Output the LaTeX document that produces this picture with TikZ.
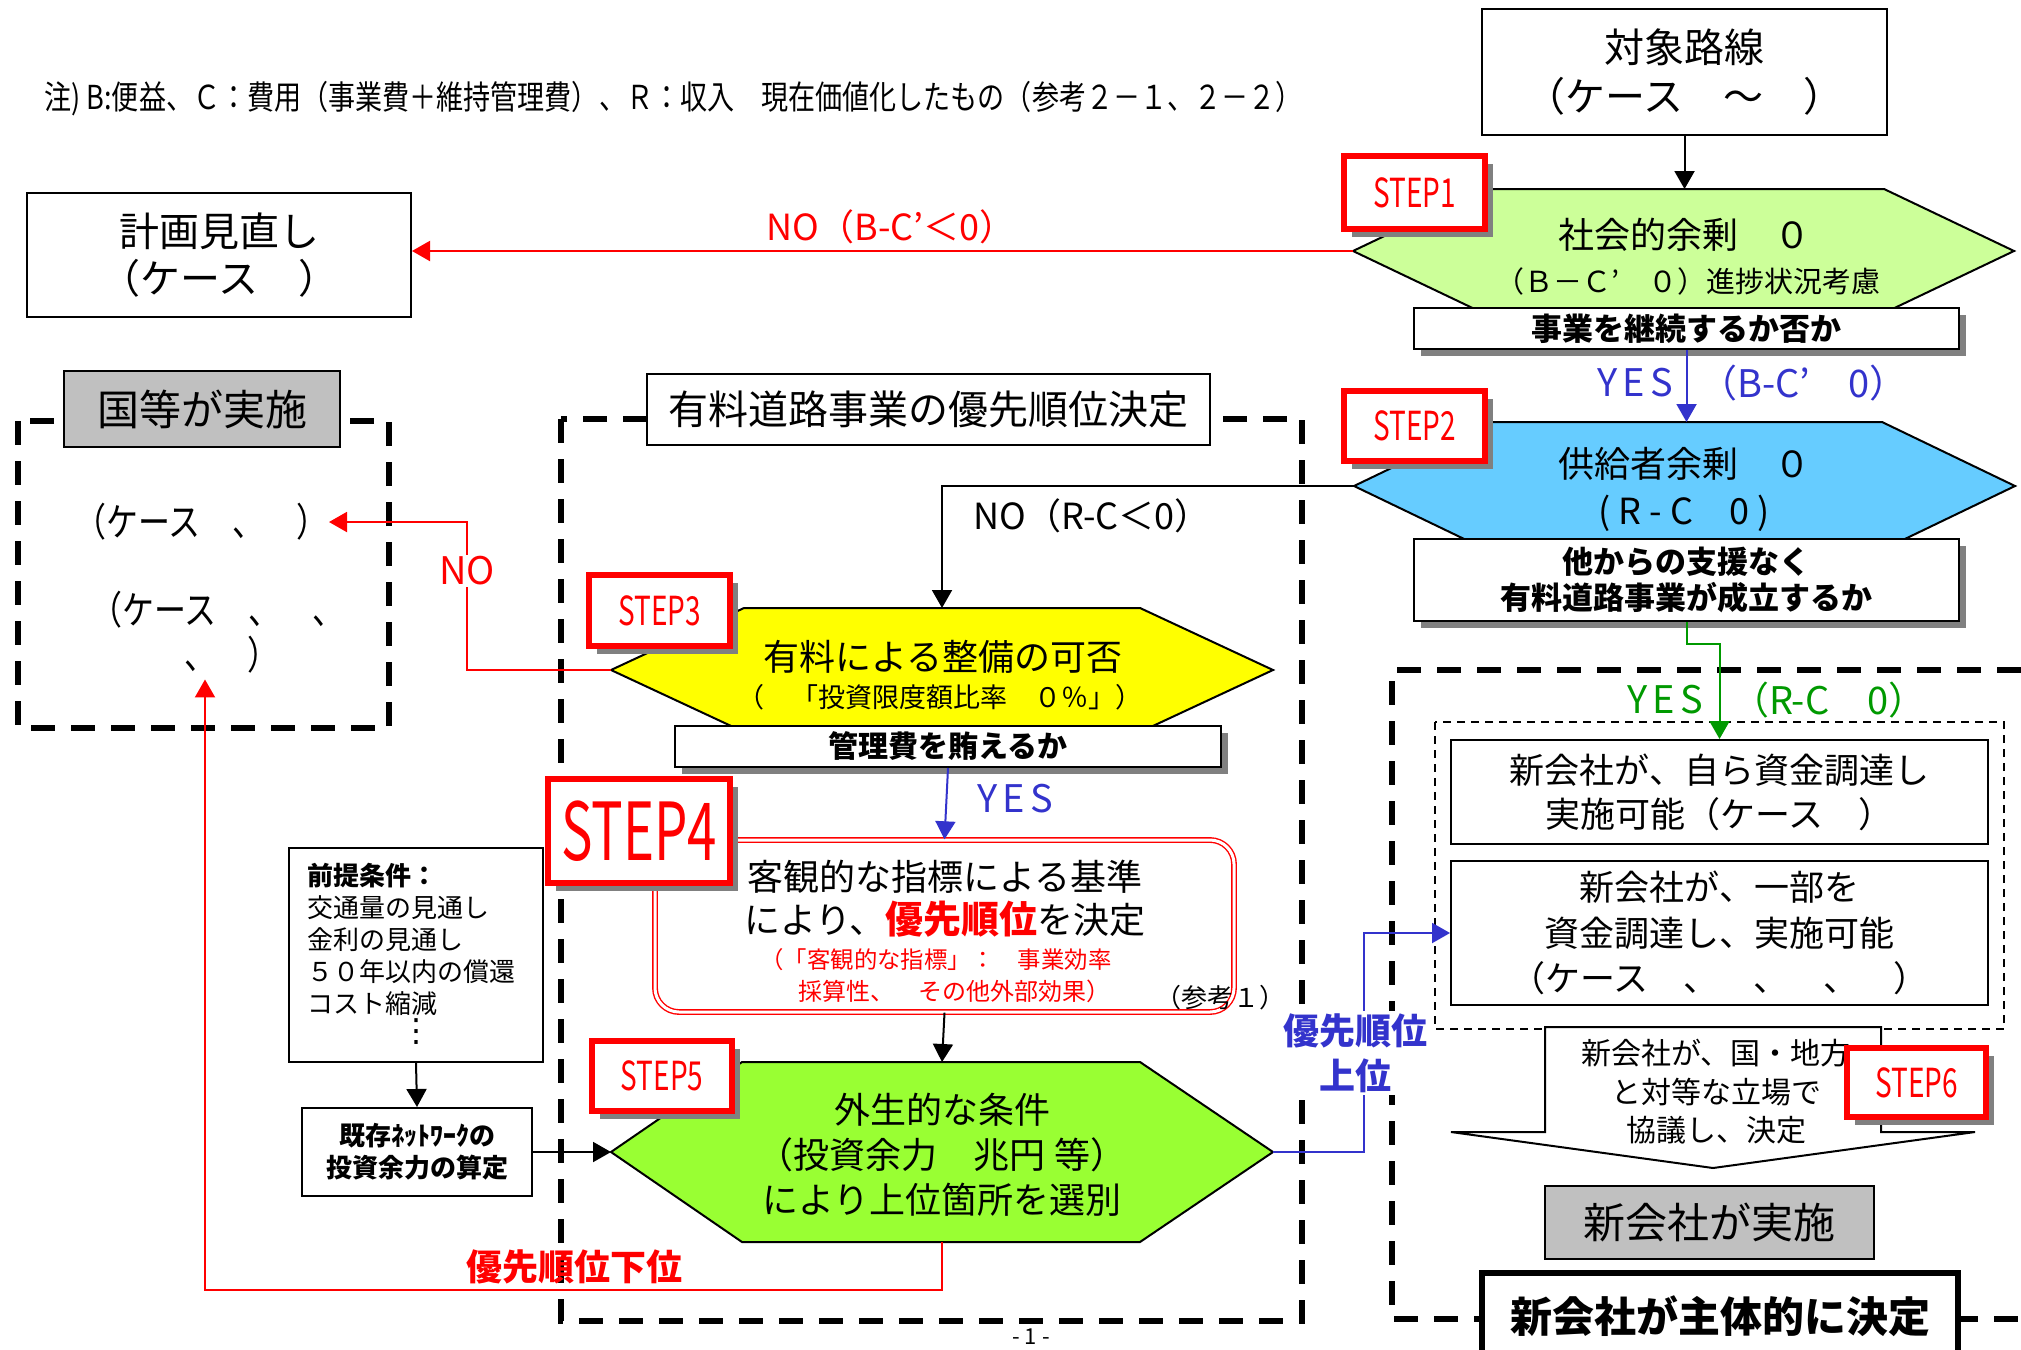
\documentclass[tikz,border=0pt]{standalone}
\usepackage{fontspec}
\setmainfont{Noto Sans CJK JP}
\newfontfamily\stepfont[FakeStretch=0.7]{Noto Sans CJK JP}
\newfontfamily\stepfontb[FakeStretch=0.66]{Noto Sans CJK JP}
\newfontfamily\condf[FakeStretch=0.82]{Noto Sans CJK JP}
\newfontfamily\spacedf[LetterSpace=14]{Noto Sans CJK JP}
\newfontfamily\dejavu{DejaVu Sans}
\usetikzlibrary{arrows.meta,shadows}
\definecolor{jred}{HTML}{FF0000}
\definecolor{jblue}{HTML}{3333CC}
\definecolor{jgreen}{HTML}{009900}
\definecolor{lgreen}{HTML}{CCFF99}
\definecolor{lblue}{HTML}{66CCFF}
\definecolor{yel}{HTML}{FFFF00}
\definecolor{fgreen}{HTML}{99FF33}
\definecolor{gfill}{HTML}{C0C0C0}
\newcommand\jfs[2]{\fontsize{#1}{#2}\selectfont}
\begin{document}
\begin{tikzpicture}[x=0.5pt,y=-0.5pt,
  box/.style={draw=black,line width=1pt,fill=white,inner sep=0pt,align=center},
  qbox/.style={box,drop shadow={shadow xshift=3.5pt,shadow yshift=-3.5pt,fill=black!50,opacity=1}},
  steplabel/.style={draw=jred,line width=3pt,fill=white,inner sep=0pt,text=jred,
     drop shadow={shadow xshift=4pt,shadow yshift=-4pt,fill=black!50,opacity=1}},
  bigdash/.style={line width=2.8pt,dash pattern=on 12pt off 8pt},
  conn/.style={draw=black,line width=1pt,-{Triangle[length=9pt,width=10pt]}},
  rconn/.style={draw=jred,line width=1pt,-{Triangle[length=9pt,width=10pt]}},
  bconn/.style={draw=jblue,line width=1pt,-{Triangle[length=9pt,width=10pt]}},
  gconn/.style={draw=jgreen,line width=1pt,-{Triangle[length=9pt,width=10pt]}},
  hexa/.style={draw=black,line width=1pt},
  yeslab/.style={font=\spacedf\jfs{19}{22}},
  condlab/.style={font=\jfs{18}{22}}
]
\useasboundingbox (0,0) rectangle (2021,1349);
\fill[white] (0,0) rectangle (2021,1349);

% note
\node[anchor=west,inner sep=0pt,font=\condf\jfs{16.5}{19}] (note) at (44,99) {注) B:便益、Ｃ：費用（事業費＋維持管理費）、Ｒ：収入　現在価値化したもの（参考２－１、２－２）};

% dashed frames
\draw[bigdash] (18,421) rectangle (389,728);
\draw[bigdash] (561,419) rectangle (1302,1321);
\draw[bigdash] (2021,670) -- (1392,670) -- (1392,1319) -- (2021,1319);
\draw[line width=1pt,dash pattern=on 4pt off 3pt] (1435,722) rectangle (2004,1029);

% target route
\node[box,minimum width=202.5pt,minimum height=63pt,font=\jfs{20}{24.5}] (taisho) at (1684.5,72) {対象路線\\（ケース　～　）};

% hexagon 1
\filldraw[hexa,fill=lgreen] (1353,251) coordinate (h1w) -- (1483,189) -- (1884,189) -- (2014,251) -- (1884,313) -- (1483,313) -- cycle;
\coordinate (h1n) at (1684.5,189);
\node[font=\jfs{18}{22}] (h1a) at (1684,235) {社会的余剰　０};
\node[font=\jfs{14.5}{17}] (h1b) at (1688,281) {（Ｂ－Ｃ’　０）進捗状況考慮};
\draw[conn] (taisho.south) -- (h1n);

\node[qbox,minimum width=272.5pt,minimum height=20.5pt,font=\bfseries\jfs{15.5}{18}] (q1) at (1686.5,328.5) {事業を継続するか否か};
\node[steplabel,minimum width=70.5pt,minimum height=36.5pt,font=\stepfont\jfs{20}{24}] (s1) at (1414.5,192.5) {STEP1};

% plan review
\node[box,minimum width=192pt,minimum height=62pt,font=\jfs{20}{23.5}] (keikaku) at (219,255) {計画見直し\\（ケース　）};
\draw[rconn] (h1w) -- (keikaku.east |- h1w);
\node[text=jred,condlab] (no1) at (891,227) {NO（B-C’＜0）};

% hexagon 2
\filldraw[hexa,fill=lblue] (1354,486) coordinate (h2w) -- (1487,422) -- (1882,422) -- (2015,486) -- (1882,550) -- (1487,550) -- cycle;
\coordinate (h2n) at (1686.5,422);
\node[font=\jfs{18}{23.5},align=center] (h2t) at (1684,489.5) {供給者余剰　０\\( R - C　0 )};
\draw[bconn] (q1.south) -- (h2n);
\node[anchor=east,text=jblue,yeslab] (yes1) at (1680,383) {YES};
\node[anchor=west,text=jblue,font=\jfs{19}{22}] (yes1b) at (1692,383) {（B-C’　0）};

\node[qbox,minimum width=272.5pt,minimum height=41pt,font=\bfseries\jfs{15.5}{18}] (q2) at (1686.5,580) {他からの支援なく\\有料道路事業が成立するか};
\node[steplabel,minimum width=70.5pt,minimum height=35pt,font=\stepfont\jfs{20}{24}] (s2) at (1414.5,426) {STEP2};

% title boxes
\node[box,minimum width=281.5pt,minimum height=35.5pt,font=\jfs{20}{24}] (title) at (928.5,409.5) {有料道路事業の優先順位決定};
\node[box,fill=gfill,minimum width=138pt,minimum height=38pt,font=\jfs{21}{25}] (kuni) at (202,409) {国等が実施};

% case texts
\node[anchor=east,inner sep=0pt,font=\condf\jfs{19.5}{22}] (case1) at (329,522) {（ケース　、　）};
\node[anchor=west,align=left,font=\condf\jfs{19.5}{22.5},inner sep=3pt] (case2) at (84,632) {（ケース　、　、\\\hspace*{2.4em}、　）};

% hexagon 3
\filldraw[hexa,fill=yel] (611,670) coordinate (h3w) -- (744,608) -- (1140,608) -- (1273,670) -- (1140,732) -- (744,732) -- cycle;
\coordinate (h3n) at (942,608);
\node[font=\jfs{18}{22}] (h3a) at (943,657) {有料による整備の可否};
\node[font=\jfs{13.5}{16}] (h3b) at (940,697) {（　「投資限度額比率　０％」）};
\draw[conn] (h2w) -| (h3n);
\node[condlab] (no2) at (1092,516) {NO（R-C＜0）};

\node[qbox,minimum width=273pt,minimum height=20.5pt,font=\bfseries\jfs{15}{18}] (q3) at (948,746.5) {管理費を賄えるか};
\node[steplabel,minimum width=70.5pt,minimum height=35.5pt,font=\stepfont\jfs{20}{24}] (s3) at (659.5,610.5) {STEP3};

% NO red to state
\coordinate (nob) at (467,670);
\draw[rconn] (h3w) -- (nob) |- (case1.east);
\node[fill=white,text=jred,font=\jfs{19}{22},inner sep=1pt] (no3) at (467,571) {NO};

% STEP4 box
\node[draw=jred,double=white,double distance=1.5pt,line width=0.7pt,rounded corners=12pt,minimum width=289.5pt,minimum height=86pt] (s4) at (944.5,926) {};
\node[font=\jfs{18}{22}] (s4a) at (945,877) {客観的な指標による基準};
\node[font=\jfs{18}{22}] (s4b) at (945,919) {により、{\bfseries\color{jred}\jfs{19}{22}優先順位}を決定};
\node[text=jred,font=\jfs{11.7}{14}] (s4c) at (936,960) {（「客観的な指標」：　事業効率};
\node[text=jred,font=\jfs{12}{14}] (s4d) at (954,991) {採算性、　その他外部効果）};
\node[font=\jfs{13}{16}] (ref1) at (1220,998) {（参考１）};
\draw[bconn] (q3.south) -- (s4.north);
\node[text=jblue,yeslab] (yes2) at (1015,799) {YES};
\node[steplabel,minimum width=91pt,minimum height=52pt,font=\stepfontb\jfs{40}{44}] (s4l) at (639,831) {STEP4};

% hexagon 5
\filldraw[hexa,fill=fgreen] (611,1152) coordinate (h5w) -- (742,1062) -- (1140,1062) -- (1273,1152) coordinate (h5e) -- (1140,1242) -- (742,1242) -- cycle;
\coordinate (h5n) at (942,1062);
\coordinate (h5s) at (942,1242);
\node[font=\jfs{18}{22.5},align=center] (h5t) at (942,1155) {外生的な条件\\（投資余力　兆円 等）\\により上位箇所を選別};
\draw[conn] (s4.south) -- (h5n);
\node[steplabel,minimum width=70pt,minimum height=35pt,font=\stepfont\jfs{20}{24}] (s5) at (662,1076) {STEP5};

% premises
\node[box,minimum width=127pt,minimum height=107pt] (zentei) at (416,955) {};
\node[anchor=north west,align=left,font=\jfs{13}{16},inner sep=0pt] (zenteiT) at (307,863) {{\bfseries 前提条件：}\\交通量の見通し\\金利の見通し\\５０年以内の償還\\コスト縮減};
\node[font=\dejavu\jfs{16}{18}] (dots) at (416,1032) {⋮};
\node[box,minimum width=115pt,minimum height=44pt,font=\bfseries\jfs{13}{16}] (kison) at (417,1152) {既存ﾈｯﾄﾜｰｸの\\投資余力の算定};
\draw[conn] (zentei.south) -- (kison.north);
\draw[conn] (kison.east) -- (h5w);

% lower priority
\coordinate (lowL) at (205,1290);
\draw[rconn] (h5s) |- (lowL) -- (lowL |- case2.south);
\node[text=jred,font=\bfseries\jfs{18}{22}] (kai) at (574,1267) {優先順位下位};

% new company boxes
\node[box,minimum width=268.5pt,minimum height=52pt,font=\jfs{17.5}{22}] (n1) at (1719.5,792) {新会社が、自ら資金調達し\\実施可能（ケース　）};
\node[box,minimum width=268.5pt,minimum height=72pt,font=\jfs{17.5}{22.75}] (n2) at (1719.5,933) {新会社が、一部を\\資金調達し、実施可能\\（ケース　、　、　、　）};
\draw[gconn] (q2.south) -- ++(0,22) -| (n1.north);
\node[anchor=east,text=jgreen,yeslab] (yes3) at (1710,700) {YES};
\node[anchor=west,text=jgreen,font=\jfs{19}{22}] (yes3b) at (1724,700) {（R-C　0）};

% upper priority
\coordinate (upB) at (1364,1152);
\draw[bconn] (h5e) -- (upB) |- (n2.west);
\node[fill=white,text=jblue,font=\bfseries\jfs{18}{22.5},align=center,inner sep=1pt] (jou) at (1355,1053) {優先順位\\上位};

% block arrow
\filldraw[fill=white,draw=black,line width=1pt] (1545,1027) -- (1881,1027) -- (1881,1132) -- (1975,1132) -- (1713,1168) -- (1451,1132) -- (1545,1132) -- cycle;
\node[font=\jfs{15}{19.25},align=center] (blk) at (1716,1092) {新会社が、国・地方\\と対等な立場で\\協議し、決定};
\node[steplabel,minimum width=69.5pt,minimum height=34.5pt,font=\stepfont\jfs{20}{24}] (s6) at (1916.5,1082.5) {STEP6};

\node[box,fill=gfill,minimum width=164.5pt,minimum height=36.5pt,font=\jfs{21}{25}] (jisshi) at (1709.5,1222.5) {新会社が実施};
\node[box,line width=3pt,minimum width=238pt,minimum height=43.5pt,font=\bfseries\jfs{21}{25}] (shutai) at (1720,1316.5) {新会社が主体的に決定};

\node[font=\jfs{11}{13},inner sep=0pt] (page) at (1031,1337) {- 1 -};
\end{tikzpicture}
\end{document}
